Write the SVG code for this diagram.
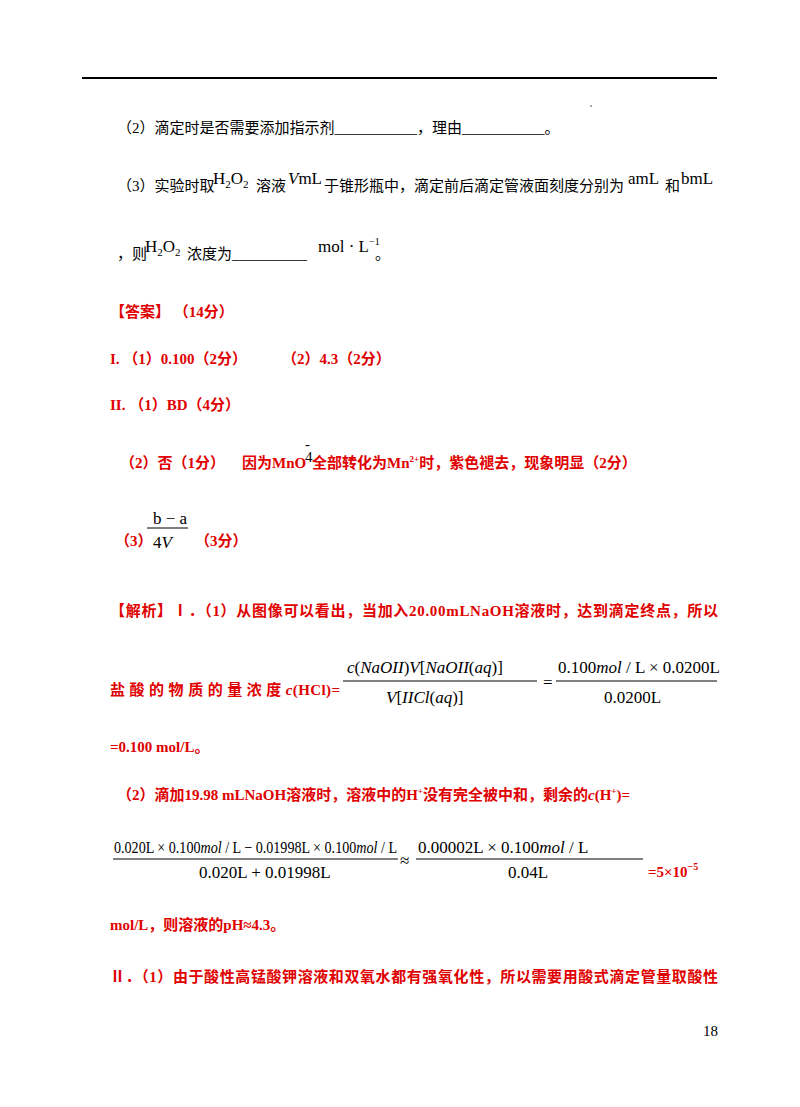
<svg xmlns="http://www.w3.org/2000/svg" width="800" height="1107" viewBox="0 0 800 1107">
<style>
.k{font-family:"Liberation Serif","Noto Sans CJK SC",serif;font-size:15px;fill:#000}
.r{font-family:"Liberation Serif","Noto Sans CJK SC",serif;font-size:15px;fill:#e00000;font-weight:bold}
.m{font-family:"Liberation Serif","Noto Sans CJK SC",serif;font-size:17px;fill:#000}
.i{font-style:italic}
.bar{stroke:#000;stroke-width:1}
</style>
<rect width="800" height="1107" fill="#fff"/>
<line x1="82" y1="78" x2="717" y2="78" stroke="#000" stroke-width="2"/>
<circle cx="591" cy="106" r="0.7" fill="#000"/>
<g id="q2"><text class="k" x="117" y="133">（2）滴定时是否需要添加指示剂___________，理由___________。</text></g>
<g id="q3">
<text class="k" x="117" y="191">（3）实验时取</text>
<text class="m" x="213" y="184">H<tspan font-size="11" dy="4">2</tspan><tspan dy="-4">O</tspan><tspan font-size="11" dy="4">2</tspan></text>
<text class="k" x="256" y="191">溶液</text>
<text class="m" x="288" y="184"><tspan class="i">V</tspan>mL</text>
<text class="k" x="324" y="191">于锥形瓶中，滴定前后滴定管液面刻度分别为</text>
<text class="m" x="628" y="184">amL</text>
<text class="k" x="665" y="191">和</text>
<text class="m" x="681" y="184">bmL</text>
<text class="k" x="117" y="259">，则</text>
<text class="m" x="145" y="252">H<tspan font-size="11" dy="4">2</tspan><tspan dy="-4">O</tspan><tspan font-size="11" dy="4">2</tspan></text>
<text class="k" x="187" y="259">浓度为__________</text>
<text class="m" x="318" y="252">mol · L<tspan font-size="10" dy="-7">−1</tspan></text>
<text class="k" x="375" y="259">。</text>
</g>
<g id="answer">
<text class="r" x="110" y="317">【答案】 （14分）</text>
<text class="r" x="110" y="364">I. （1）0.100（2分）</text>
<text class="r" x="282" y="364">（2）4.3（2分）</text>
<text class="r" x="110" y="410">II. （1）BD（4分）</text>
<text class="r" x="120" y="468">（2）否（1分）</text>
<text class="r" x="242" y="468">因为MnO</text>
<text class="k" x="305" y="449" font-size="5">-</text>
<text class="k" x="305" y="462" font-size="9">4</text>
<text class="r" x="312" y="468">全部转化为Mn<tspan font-size="9" dy="-6">2+</tspan><tspan dy="6">时，紫色褪去，现象明显（2分）</tspan></text>
<text class="r" x="115" y="546" font-size="13">（3）</text>
<text class="m" x="153" y="524">b − a</text>
<line class="bar" x1="147" y1="528" x2="188" y2="528"/>
<text class="m" x="153" y="548">4<tspan class="i">V</tspan></text>
<text class="r" x="195" y="546">（3分）</text>
</g>
<g id="analysis">
<text class="r" x="110" y="616" textLength="608">【解析】Ⅰ．（1）从图像可以看出，当加入20.00mLNaOH溶液时，达到滴定终点，所以</text>
<text class="r" x="110" y="695" textLength="230">盐 酸 的 物 质 的 量 浓 度 <tspan class="i">c</tspan>(HCl)=</text>
<text class="m" x="347" y="673"><tspan class="i">c</tspan>(<tspan class="i">NaOII</tspan>)<tspan class="i">V</tspan>[<tspan class="i">NaOII</tspan>(<tspan class="i">aq</tspan>)]</text>
<line class="bar" x1="343" y1="681" x2="537" y2="681"/>
<text class="m" x="386" y="703"><tspan class="i">V</tspan>[<tspan class="i">IICl</tspan>(<tspan class="i">aq</tspan>)]</text>
<text class="m" x="543" y="688">=</text>
<text class="m" x="558" y="673">0.100<tspan class="i">mol</tspan> / L × 0.0200L</text>
<line class="bar" x1="556" y1="681" x2="717" y2="681"/>
<text class="m" x="604" y="703">0.0200L</text>
<text class="r" x="110" y="752">=0.100  mol/L。</text>
<text class="r" x="117" y="800">（2）滴加19.98  mLNaOH溶液时，溶液中的H<tspan font-size="9" dy="-6">+</tspan><tspan dy="6">没有完全被中和，剩余的</tspan><tspan class="i">c</tspan>(H<tspan font-size="9" dy="-6">+</tspan><tspan dy="6">)=</tspan></text>
<text class="m" x="114" y="853" font-size="16" textLength="283" lengthAdjust="spacingAndGlyphs">0.020L × 0.100<tspan class="i">mol</tspan> / L − 0.01998L × 0.100<tspan class="i">mol</tspan> / L</text>
<line class="bar" x1="113" y1="859" x2="398" y2="859"/>
<text class="m" x="199" y="878">0.020L + 0.01998L</text>
<text class="m" x="400" y="866">≈</text>
<text class="m" x="418" y="853">0.00002L × 0.100<tspan class="i">mol</tspan> / L</text>
<line class="bar" x1="416" y1="859" x2="643" y2="859"/>
<text class="m" x="508" y="878">0.04L</text>
<text class="r" x="648" y="877">=5×10<tspan font-size="10" dy="-7">−5</tspan></text>
<text class="r" x="110" y="930">mol/L，则溶液的pH≈4.3。</text>
<text class="r" x="110" y="982" textLength="608">Ⅱ．（1）由于酸性高锰酸钾溶液和双氧水都有强氧化性，所以需要用酸式滴定管量取酸性</text>
</g>
<text class="k" x="703" y="1036" font-size="14">18</text>
</svg>
